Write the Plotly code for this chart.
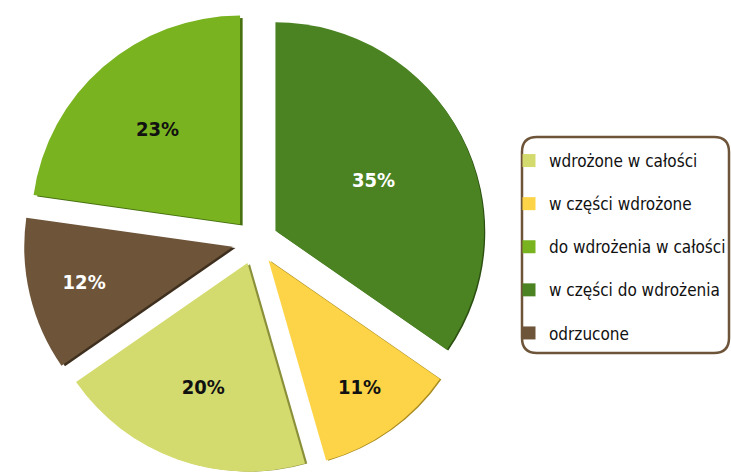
import plotly.graph_objects as go

# Slices in clockwise order, starting at 12 o'clock
slice_labels = ["w części do wdrożenia", "w części wdrożone", "wdrożone w całości",
                "odrzucone", "do wdrożenia w całości"]
slice_values = [35, 11, 20, 12, 23]
slice_colors = ["#4b8322", "#fdd447", "#d4db6e", "#6e5539", "#79b31f"]
shadow_colors = ["#2c4f12", "#a88a1f", "#8a8f3a", "#3e2f1e", "#46700f"]
text_colors = ["#ffffff", "#111111", "#111111", "#ffffff", "#111111"]

# Legend order
legend_labels = ["wdrożone w całości", "w części wdrożone", "do wdrożenia w całości",
                 "w części do wdrożenia", "odrzucone"]

FONT = "DejaVu Sans Condensed, Liberation Sans Narrow, Roboto, sans-serif"

W, H = 731, 473
T = 10
PH = H - T
pull = 0.11
dom_x = [0, 0.7279]
dom_y = [0, 1]

fig = go.Figure()

# dark rim behind each slice (bevel look)
sh = 2.5
fig.add_trace(go.Pie(
    labels=slice_labels, values=slice_values, sort=False, direction="clockwise",
    rotation=0, pull=pull, textinfo="none", hoverinfo="skip", showlegend=False,
    marker=dict(colors=shadow_colors, line=dict(width=0)),
    domain=dict(x=[dom_x[0] + sh / 705, dom_x[1] + sh / 705],
                y=[0, dom_y[1] - sh / PH]),
))

fig.add_trace(go.Pie(
    labels=slice_labels, values=slice_values, sort=False, direction="clockwise",
    rotation=0, pull=pull, showlegend=False,
    texttemplate="%{value}%", textposition="inside", insidetextorientation="horizontal",
    textfont=dict(family=FONT, size=20, color=text_colors, weight="bold"),
    marker=dict(colors=slice_colors, line=dict(width=0)),
    domain=dict(x=dom_x, y=dom_y),
))

# legend entries
color_by_label = dict(zip(slice_labels, slice_colors))
for i, name in enumerate(legend_labels):
    fig.add_trace(go.Scatter(
        x=[None], y=[None], mode="markers", name=name, legendgroup=f"g{i}",
        marker=dict(symbol="square", size=13, color=color_by_label[name]),
        showlegend=True, hoverinfo="skip",
    ))

# rounded frame around the legend, in pixels measured from the plot area's top-left
fx0, fx1, rad = 522, 729, 15
fy0, fy1 = 137 - T, 353 - T
path = (f"M {fx0 + rad},{-fy0} L {fx1 - rad},{-fy0} Q {fx1},{-fy0} {fx1},{-fy0 - rad} "
        f"L {fx1},{-fy1 + rad} Q {fx1},{-fy1} {fx1 - rad},{-fy1} "
        f"L {fx0 + rad},{-fy1} Q {fx0},{-fy1} {fx0},{-fy1 + rad} "
        f"L {fx0},{-fy0 - rad} Q {fx0},{-fy0} {fx0 + rad},{-fy0} Z")

fig.update_layout(
    width=W, height=H,
    margin=dict(l=0, r=0, t=T, b=0),
    paper_bgcolor="white", plot_bgcolor="white",
    xaxis=dict(visible=False), yaxis=dict(visible=False),
    showlegend=True,
    legend=dict(
        x=531 / W, y=1 - (143 - T) / PH, xanchor="left", yanchor="top",
        font=dict(family=FONT, size=17, color="#111111"),
        bgcolor="rgba(0,0,0,0)", borderwidth=0,
        tracegroupgap=18, traceorder="grouped", itemwidth=30,
    ),
    shapes=[dict(type="path", path=path, xref="paper", yref="paper",
                 xsizemode="pixel", ysizemode="pixel", xanchor=0, yanchor=1,
                 line=dict(color="#6e5539", width=2.5), fillcolor="rgba(0,0,0,0)")],
)

fig.write_html("out.html")
